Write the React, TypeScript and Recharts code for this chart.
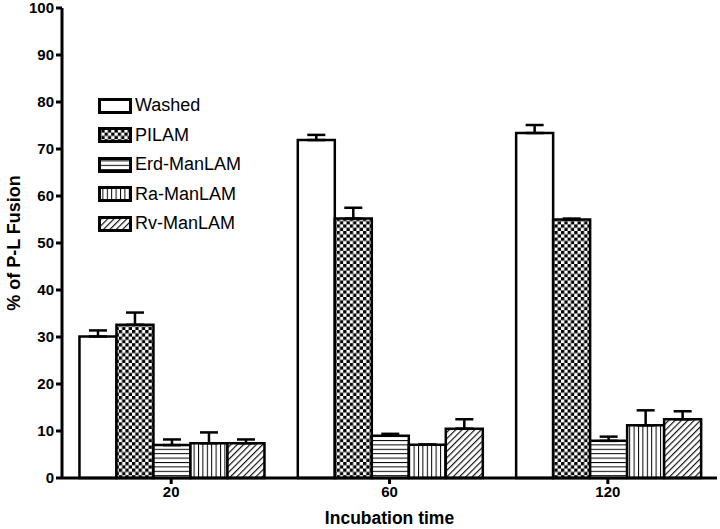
import { Bar, BarChart, ErrorBar, XAxis, YAxis } from 'recharts';

const times = ['20', '60', '120'];
const series = ['Washed', 'PILAM', 'Erd-ManLAM', 'Ra-ManLAM', 'Rv-ManLAM'];

const washed = [30.1, 71.9, 73.4];
const pilam = [32.6, 55.2, 55.0];
const erd = [7.0, 9.0, 7.9];
const ra = [7.4, 7.1, 11.2];
const rv = [7.4, 10.5, 12.5];

const washedErr = [1.3, 1.1, 1.7];
const pilamErr = [2.6, 2.3, 0.2];
const erdErr = [1.2, 0.4, 0.9];
const raErr = [2.3, 0, 3.2];
const rvErr = [0.8, 2.0, 1.7];

const yTicks = [0, 10, 20, 30, 40, 50, 60, 70, 80, 90, 100];

const FILL: Record<string, string> = {
  'Washed': '#ffffff',
  'PILAM': 'url(#pat-check)',
  'Erd-ManLAM': 'url(#pat-horiz)',
  'Ra-ManLAM': 'url(#pat-vert)',
  'Rv-ManLAM': 'url(#pat-diag)',
};

const values = [washed, pilam, erd, ra, rv];
const errors = [washedErr, pilamErr, erdErr, raErr, rvErr];

const data = times.map((t, i) => {
  const row: Record<string, unknown> = { time: t };
  series.forEach((s, k) => {
    row[s] = values[k][i];
    row[s + '_err'] = [0, errors[k][i]];
  });
  return row;
});

const FONT = '"Liberation Sans", Arial, sans-serif';

function Patterns() {
  return (
    <svg width={0} height={0} style={{ position: 'absolute' }}>
      <defs>
        <pattern id="pat-check" width={6.6} height={6.6} patternUnits="userSpaceOnUse">
          <rect width={6.6} height={6.6} fill="#fff" />
          <rect x={0} y={0} width={3.3} height={3.3} fill="#000" />
          <rect x={3.3} y={3.3} width={3.3} height={3.3} fill="#000" />
        </pattern>
        <pattern id="pat-horiz" width={8} height={4.4} patternUnits="userSpaceOnUse">
          <rect width={8} height={4.4} fill="#fff" />
          <line x1={0} y1={0.5} x2={8} y2={0.5} stroke="#000" strokeWidth={1} />
        </pattern>
        <pattern id="pat-vert" width={4.4} height={8} patternUnits="userSpaceOnUse">
          <rect width={4.4} height={8} fill="#fff" />
          <line x1={0.5} y1={0} x2={0.5} y2={8} stroke="#000" strokeWidth={1} />
        </pattern>
        <pattern
          id="pat-diag"
          width={4.5}
          height={8}
          patternUnits="userSpaceOnUse"
          patternTransform="rotate(45)"
        >
          <rect width={4.5} height={8} fill="#fff" />
          <line x1={0.6} y1={0} x2={0.6} y2={8} stroke="#000" strokeWidth={1.1} />
        </pattern>
      </defs>
    </svg>
  );
}

function LegendBox() {
  return (
    <div style={{ position: 'absolute', left: 98, top: 91, fontFamily: FONT, fontSize: 18 }}>
      {series.map((s) => (
        <div key={s} style={{ display: 'flex', alignItems: 'center', height: 29.5 }}>
          <svg width={37} height={18}>
            <rect x={1.5} y={2.5} width={31} height={13} fill={FILL[s]} stroke="#000" strokeWidth={3} />
          </svg>
          <span>{s}</span>
        </div>
      ))}
    </div>
  );
}

export default function App() {
  return (
    <div style={{ position: 'absolute', left: 0, top: 0, width: 720, height: 529, background: '#fff' }}>
      <Patterns />
      <BarChart
        width={720}
        height={529}
        data={data}
        margin={{ top: 8, right: 3, left: 0, bottom: 0 }}
        barCategoryGap="8%"
        barGap={0}
      >
        <XAxis
          dataKey="time"
          height={51}
          tickSize={6}
          axisLine={{ stroke: '#000', strokeWidth: 3 }}
          tickLine={{ stroke: '#000', strokeWidth: 3 }}
          tick={{ fill: '#000', fontSize: 15, fontWeight: 'bold', fontFamily: FONT }}
          label={{
            value: 'Incubation time',
            position: 'insideBottom',
            offset: 5,
            fill: '#000',
            fontSize: 17.5,
            fontWeight: 'bold',
            fontFamily: FONT,
          }}
        />
        <YAxis
          width={62}
          domain={[0, 100]}
          ticks={yTicks}
          interval={0}
          tickSize={6}
          axisLine={{ stroke: '#000', strokeWidth: 3 }}
          tickLine={{ stroke: '#000', strokeWidth: 3 }}
          tick={{ fill: '#000', fontSize: 15, fontWeight: 'bold', fontFamily: FONT }}
          label={{
            value: '% of P-L Fusion',
            angle: -90,
            position: 'insideLeft',
            offset: 14,
            style: { textAnchor: 'middle' },
            fill: '#000',
            fontSize: 18,
            fontWeight: 'bold',
            fontFamily: FONT,
          }}
        />
        {series.map((s) => (
          <Bar
            key={s}
            dataKey={s}
            fill={FILL[s]}
            stroke="#000"
            strokeWidth={2.5}
            isAnimationActive={false}
          >
            <ErrorBar
              dataKey={s + '_err'}
              direction="y"
              width={9}
              stroke="#000"
              strokeWidth={2.5}
              isAnimationActive={false}
            />
          </Bar>
        ))}
      </BarChart>
      <LegendBox />
    </div>
  );
}
